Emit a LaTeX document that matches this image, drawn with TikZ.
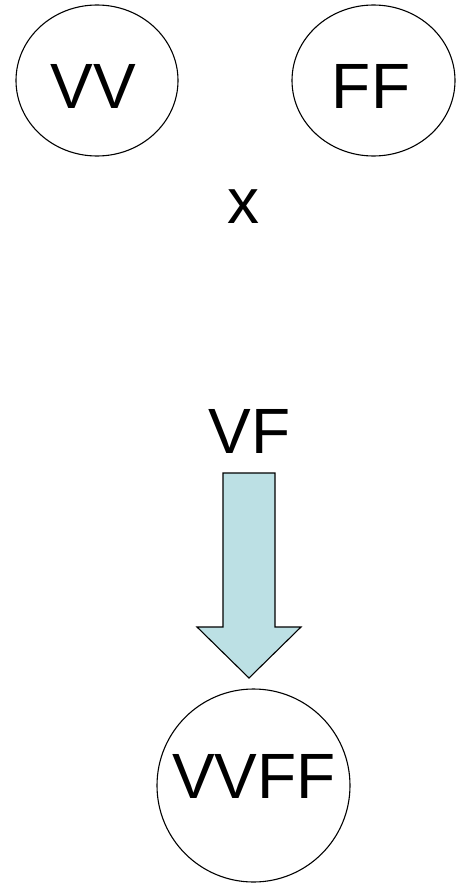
\documentclass[tikz,border=0pt]{standalone}
\usepackage{fontspec}
\setmainfont{Liberation Sans}
\usetikzlibrary{shapes.geometric}
\definecolor{arrowfill}{RGB}{188,224,228}
\begin{document}
\begin{tikzpicture}[x=1pt,y=1pt,
  shapeline/.style={draw=black,line width=1.1pt},
  lbl/.style={inner sep=0pt,anchor=base,font=\fontsize{64}{64}\selectfont}]
\useasboundingbox (0,0) rectangle (462,-883);
\node[shapeline,ellipse,minimum width=162pt,minimum height=151pt,inner sep=0pt] (vv) at (97,-80.5) {};
\node[shapeline,ellipse,minimum width=163pt,minimum height=151pt,inner sep=0pt] (ff) at (373.5,-80.5) {};
\node[shapeline,circle,minimum size=193pt,inner sep=0pt] (vvff) at (253.5,-785.5) {};
\node[lbl] (tvv) at (93.5,-108) {VV};
\node[lbl] (tff) at (371,-108) {FF};
\node[lbl] (tx) at (243.5,-223) {x};
\node[lbl] (tvf) at (249.5,-453) {VF};
\node[lbl] (tvvff) at (254,-798) {VVFF};
\draw[shapeline,fill=arrowfill,line join=miter]
  (223,-473) -- (275,-473) -- (275,-627) -- (301,-627) -- (249,-678)
  -- (197,-627) -- (223,-627) -- cycle;
\end{tikzpicture}
\end{document}
